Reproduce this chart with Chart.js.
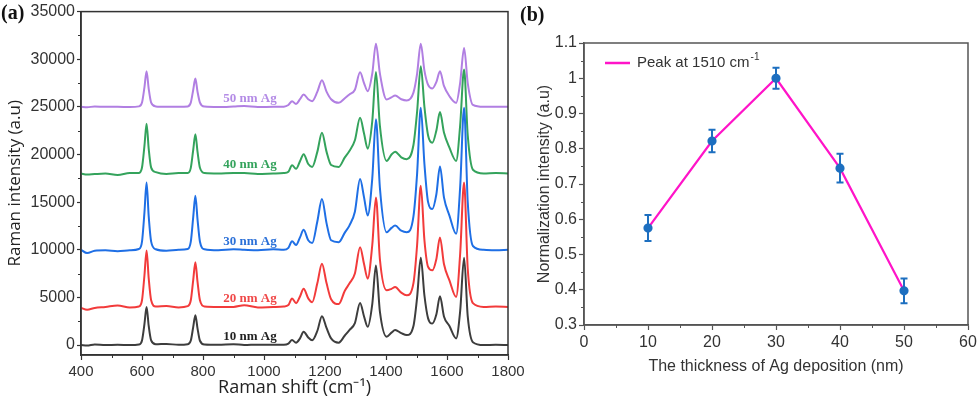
<!DOCTYPE html>
<html>
<head>
<meta charset="utf-8">
<script src="https://cdn.jsdelivr.net/npm/chart.js@4.4.1/dist/chart.umd.min.js"></script>
<style>
  html, body { margin: 0; padding: 0; background: #fff; }
  #wrap { position: relative; width: 980px; height: 404px; overflow: hidden; }
  canvas { position: absolute; top: 0; }
  #chartA { left: 0; }
  #chartB { left: 520px; }
  .panel { position: absolute; font: bold 20px "Liberation Serif", "Times New Roman", serif; color: #111; z-index: 2; }
</style>
</head>
<body>
<div id="wrap">
  <canvas id="chartB" width="460" height="404"></canvas>
  <canvas id="chartA" width="530" height="404"></canvas>
  <div class="panel" style="left:1px; top:1px;">(a)</div>
  <div class="panel" style="left:520px; top:3px;">(b)</div>
</div>
<script>
// ---- panel (a): Raman spectra ----
const ramanShift = [400, 420, 445, 480, 520, 560, 590, 600, 608, 615, 622, 630, 645, 680, 720, 750, 760, 768, 775, 782, 790, 805, 850, 900, 935, 980, 1030, 1065,
  1080, 1092, 1105, 1118, 1130, 1145, 1158, 1175, 1190, 1205, 1220, 1245, 1265, 1280, 1298, 1315, 1328, 1340, 1355, 1367, 1380, 1402, 1418, 1430, 1450, 1468,
  1490, 1502, 1514, 1526, 1538, 1552, 1565, 1577, 1590, 1608, 1630, 1643, 1656, 1668, 1685, 1720, 1760, 1800];

const ag10 = [0, -50, 60, 0, 30, 0, 60, 480, 2200, 4000, 2000, 480, 80, 120, 20, 80, 470, 1900, 3130, 1750, 450, 60, 30, 90, 0, 40, 20, 30,
  150, 520, 250, 700, 1390, 800, 500, 1500, 3030, 1800, 700, 250, 1000, 1570, 2300, 4420, 3000, 1910, 4300, 8360, 3500, 870, 1300, 1570, 1250, 1045,
  2000, 5000, 9160, 5200, 2800, 2260, 3200, 5120, 3000, 1990, 700, 3500, 9160, 3000, 300, 0, 30, 0];
const ag20 = [3900, 3700, 3900, 4000, 4150, 3950, 4050, 4700, 7300, 9930, 7000, 4700, 4050, 4100, 3950, 4080, 4700, 6850, 8700, 6650, 4700, 4050, 4000, 4000, 4180, 3950, 4000, 4050,
  4200, 4880, 4400, 5100, 5920, 4900, 4500, 6500, 8540, 6500, 4800, 4300, 5700, 6450, 7500, 10270, 8500, 6970, 10500, 15500, 9000, 5750, 5900, 6090, 5500, 5220,
  6500, 10500, 16720, 11000, 8200, 7840, 9000, 11300, 8500, 6790, 5050, 9500, 17060, 8000, 4400, 4000, 4050, 4000];
const ag30 = [10000, 9650, 9900, 9950, 9850, 9950, 10080, 10850, 13900, 17060, 13500, 10850, 10050, 9900, 10000, 10080, 10850, 13450, 15670, 13200, 10850, 10050, 9950, 10050, 10000, 9950, 10050, 10000,
  10200, 10900, 10500, 11300, 12090, 11000, 10700, 13000, 15330, 12800, 11000, 10800, 11800, 12540, 14000, 17420, 15500, 13590, 17500, 23690, 16500, 11840, 12300, 12540, 12000, 11840,
  13500, 18000, 24900, 19000, 15000, 14280, 15800, 18740, 15500, 13590, 11670, 16500, 24900, 15000, 10400, 10000, 9950, 10000];
const ag40 = [18000, 17900, 17950, 18000, 17850, 18050, 18070, 18630, 20900, 23230, 20600, 18630, 18150, 17950, 18050, 18060, 18600, 20500, 22120, 20300, 18600, 18050, 18000, 18050, 18050, 17950, 18000, 18050,
  18200, 18880, 18500, 19300, 20030, 19000, 18700, 20300, 22290, 20300, 18900, 18700, 19700, 20370, 21500, 23860, 22200, 20610, 23500, 28660, 23000, 19330, 20000, 20300, 19700, 19500,
  21000, 24500, 29260, 25000, 22000, 21240, 22500, 24450, 22300, 20720, 19330, 23000, 28910, 22000, 18400, 18000, 18050, 18000];
const ag50 = [25000, 24950, 25050, 25000, 25000, 24980, 25050, 25450, 27050, 28740, 26900, 25450, 25050, 25000, 25000, 25050, 25450, 26800, 27970, 26600, 25450, 25030, 24980, 25030, 25080, 24990, 25000, 25020,
  25200, 25600, 25300, 25800, 26300, 25800, 25600, 26600, 27800, 26600, 25800, 25420, 25900, 26300, 26800, 28630, 27500, 26650, 28500, 31630, 28500, 25780, 26000, 26200, 25800, 25670,
  26500, 28500, 31630, 28800, 27300, 26930, 27600, 28740, 27200, 26120, 25420, 27500, 31170, 27500, 25200, 25000, 25000, 25000];

const seriesNames = ['10 nm Ag', '20 nm Ag', '30 nm Ag', '40 nm Ag', '50 nm Ag'];
const seriesBaselines = [0, 4000, 10000, 18000, 25000];
const seriesData = [ag10, ag20, ag30, ag40, ag50];
const lineColors = ['#3d3d3d', '#f23b3b', '#1f6fe5', '#34a35c', '#b17fe2'];
const labelColors = ['#222222', '#f04848', '#2b70d8', '#34a35c', '#b48be6'];
const shiftTicks = [400, 600, 800, 1000, 1200, 1400, 1600, 1800];
const intensityTicks = [0, 5000, 10000, 15000, 20000, 25000, 30000, 35000];

// ---- panel (b): normalized intensity ----
const thickness = [10, 20, 30, 40, 50];
const normIntensity = [0.575, 0.822, 1.0, 0.745, 0.397];
const normError = [0.037, 0.032, 0.03, 0.041, 0.035];
const thicknessTicks = [0, 10, 20, 30, 40, 50, 60];
const normTicks = [0.3, 0.4, 0.5, 0.6, 0.7, 0.8, 0.9, 1, 1.1];

const sans = '"Liberation Sans", Arial, sans-serif';
const setTicks = list => s => { s.ticks = list.map(v => ({value: v})); };

// box round the plot area
const frame = {
  id: 'frame',
  afterDraw(chart, args, o) {
    const {ctx, chartArea: a} = chart;
    ctx.save();
    ctx.strokeStyle = o.color;
    ctx.lineWidth = o.width;
    ctx.strokeRect(a.left, a.top, a.right - a.left, a.bottom - a.top);
    ctx.restore();
  }
};

// short ticks between the labelled ones
const minorTicks = {
  id: 'minorTicks',
  afterDraw(chart, args, o) {
    const {ctx, chartArea: a, scales: {x, y}} = chart;
    ctx.save();
    ctx.strokeStyle = o.color;
    ctx.lineWidth = 1;
    ctx.beginPath();
    for (let v = x.min + o.xStep; v < x.max; v += o.xStep * 2) {
      const px = Math.round(x.getPixelForValue(v)) + 0.5;
      ctx.moveTo(px, a.bottom); ctx.lineTo(px, a.bottom + o.len);
    }
    for (let v = o.yFirst; v < y.max; v += o.yStep * 2) {
      const py = Math.round(y.getPixelForValue(v)) + 0.5;
      ctx.moveTo(a.left, py); ctx.lineTo(a.left - o.len, py);
    }
    ctx.stroke();
    ctx.restore();
  }
};

const seriesLabels = {
  id: 'seriesLabels',
  afterDatasetsDraw(chart, args, o) {
    const {ctx, scales: {x, y}} = chart;
    ctx.save();
    ctx.font = 'bold 13px "Liberation Serif", "Times New Roman", serif';
    ctx.textAlign = 'center';
    ctx.textBaseline = 'middle';
    seriesNames.forEach((name, i) => {
      ctx.fillStyle = labelColors[i];
      ctx.fillText(name, x.getPixelForValue(o.at), y.getPixelForValue(seriesBaselines[i] + o.lift));
    });
    ctx.restore();
  }
};

const errorBars = {
  id: 'errorBars',
  afterDatasetsDraw(chart, args, o) {
    const {ctx, scales: {x, y}} = chart;
    ctx.save();
    ctx.strokeStyle = o.color;
    ctx.lineWidth = 2;
    ctx.beginPath();
    thickness.forEach((t, i) => {
      const px = x.getPixelForValue(t);
      const top = y.getPixelForValue(normIntensity[i] + normError[i]);
      const bot = y.getPixelForValue(normIntensity[i] - normError[i]);
      ctx.moveTo(px, top); ctx.lineTo(px, bot);
      ctx.moveTo(px - o.cap, top); ctx.lineTo(px + o.cap, top);
      ctx.moveTo(px - o.cap, bot); ctx.lineTo(px + o.cap, bot);
    });
    ctx.stroke();
    ctx.restore();
  }
};

const lineLegend = {
  id: 'lineLegend',
  afterDraw(chart, args, o) {
    const {ctx, chartArea: a} = chart;
    const ds = chart.data.datasets[0];
    const x0 = a.left + o.dx, y0 = a.top + o.dy;
    ctx.save();
    ctx.strokeStyle = ds.borderColor;
    ctx.lineWidth = 2.5;
    ctx.beginPath(); ctx.moveTo(x0, y0); ctx.lineTo(x0 + 25, y0); ctx.stroke();
    ctx.fillStyle = '#333';
    ctx.textBaseline = 'middle';
    ctx.font = '15px ' + sans;
    const main = 'Peak at 1510 cm';
    ctx.fillText(main, x0 + 32, y0);
    const w = ctx.measureText(main).width;
    ctx.font = '10px ' + sans;
    ctx.fillText('-1', x0 + 33 + w, y0 - 6);
    ctx.restore();
  }
};

new Chart(document.getElementById('chartA'), {
  type: 'line',
  data: {
    datasets: seriesData.map((vals, i) => ({
      label: seriesNames[i],
      data: ramanShift.map((s, k) => ({x: s, y: vals[k]})),
      borderColor: lineColors[i],
      borderWidth: 2,
      pointRadius: 0,
      cubicInterpolationMode: 'monotone',
      fill: false
    }))
  },
  options: {
    responsive: false,
    animation: false,
    layout: { padding: { top: 10, right: 22, left: 0, bottom: 0 } },
    plugins: {
      legend: { display: false },
      tooltip: { enabled: false },
      frame: { color: '#333', width: 1.5 },
      minorTicks: { color: '#333', len: 3, xStep: 100, yStep: 2500, yFirst: 2500 },
      seriesLabels: { at: 954, lift: 900 }
    },
    scales: {
      x: {
        type: 'linear', min: 400, max: 1800,
        afterBuildTicks: setTicks(shiftTicks),
        ticks: { color: '#333', font: { family: sans, size: 15 }, padding: 3, maxRotation: 0, callback: v => String(v) },
        grid: { drawOnChartArea: false, tickLength: 5, tickColor: '#333', tickWidth: 1.2 },
        border: { color: '#333', width: 1.5 },
        title: { display: true, text: 'Raman shift (cm⁻¹)', color: '#222', font: { family: '"Open Sans", sans-serif', size: 18 }, padding: { top: 0, bottom: 5 } },
        afterFit: s => { s.height = 49; }
      },
      y: {
        min: -1045, max: 35000,
        afterBuildTicks: setTicks(intensityTicks),
        ticks: { color: '#333', font: { family: sans, size: 16 }, padding: 2, callback: v => String(v) },
        grid: { drawOnChartArea: false, tickLength: 4, tickColor: '#333', tickWidth: 1.2 },
        border: { color: '#333', width: 1.5 },
        title: { display: true, text: 'Raman intensity (a.u)', color: '#222', font: { family: '"Open Sans", sans-serif', size: 17 }, padding: { top: 5, bottom: 0 } },
        afterFit: s => { s.width = 81; }
      }
    }
  },
  plugins: [frame, minorTicks, seriesLabels]
});

new Chart(document.getElementById('chartB'), {
  type: 'line',
  data: {
    datasets: [{
      label: 'Peak at 1510 cm⁻¹',
      data: thickness.map((t, i) => ({x: t, y: normIntensity[i]})),
      borderColor: '#ff14c8',
      backgroundColor: '#ff14c8',
      borderWidth: 2.2,
      pointRadius: 3.5,
      pointBackgroundColor: '#1d6fc0',
      pointBorderColor: '#1d6fc0',
      tension: 0
    }]
  },
  options: {
    responsive: false,
    animation: false,
    layout: { padding: { top: 43, right: 12, left: 0, bottom: 0 } },
    plugins: {
      legend: { display: false },
      tooltip: { enabled: false },
      frame: { color: '#555', width: 1.5 },
      minorTicks: { color: '#555', len: 3, xStep: 5, yStep: 0.05, yFirst: 0.35 },
      errorBars: { color: '#1d6fc0', cap: 3.5 },
      lineLegend: { dx: 21, dy: 20 }
    },
    scales: {
      x: {
        type: 'linear', min: 0, max: 60,
        afterBuildTicks: setTicks(thicknessTicks),
        ticks: { color: '#333', font: { family: sans, size: 16 }, padding: 3, maxRotation: 0 },
        grid: { drawOnChartArea: false, tickLength: 5, tickColor: '#555', tickWidth: 1.2 },
        border: { color: '#555', width: 1.5 },
        title: { display: true, text: 'The thickness of Ag deposition (nm)', color: '#333', font: { family: sans, size: 16 }, padding: { top: 0, bottom: 28 } },
        afterFit: s => { s.height = 79; }
      },
      y: {
        min: 0.3, max: 1.1,
        afterBuildTicks: setTicks(normTicks),
        ticks: { color: '#333', font: { family: sans, size: 16 }, padding: 2, callback: v => String(+v.toFixed(2)) },
        grid: { drawOnChartArea: false, tickLength: 5, tickColor: '#555', tickWidth: 1.2 },
        border: { color: '#555', width: 1.5 },
        title: { display: true, text: 'Normalization intensity (a.u)', color: '#333', font: { family: sans, size: 16 }, padding: { top: 15, bottom: 0 } },
        afterFit: s => { s.width = 64; }
      }
    }
  },
  plugins: [frame, minorTicks, errorBars, lineLegend]
});
</script>
</body>
</html>
